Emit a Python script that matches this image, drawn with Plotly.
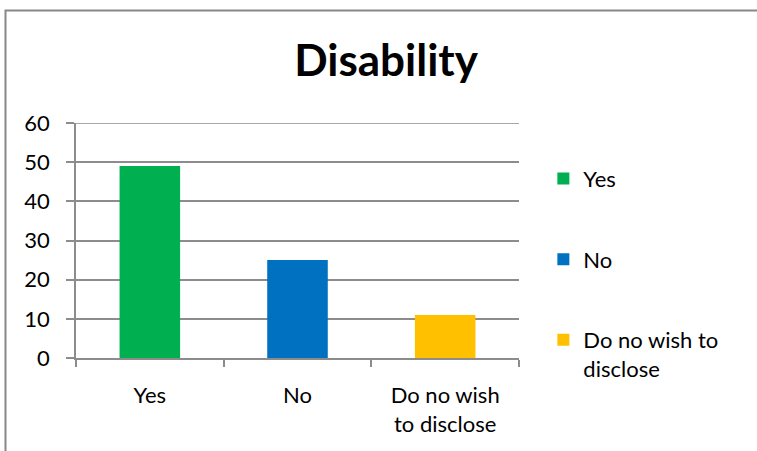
import plotly.graph_objects as go

categories = ["Yes", "No", "Do no wish<br>to disclose"]
legend_names = ["Yes", "No", "Do no wish to<br>disclose"]
values = [49, 25, 11]
colors = ["#00B050", "#0070C0", "#FFC000"]
y_max = 60

FONT = "Lato, Carlito, Calibri, sans-serif"
GRID = "#8C8C8C"

fig = go.Figure()
for i, (cat, name, val, col) in enumerate(zip(categories, legend_names, values, colors)):
    fig.add_trace(go.Bar(x=[cat], y=[val], name=name, marker_color=col,
                         legendgroup=f"g{i}", marker_line_width=0))

fig.update_layout(
    width=757, height=451,
    margin=dict(l=76, r=238, t=123, b=93),
    paper_bgcolor="white", plot_bgcolor="white",
    barmode="overlay", bargap=0.59,
    font=dict(family=FONT, size=22, color="#000000"),
    title=dict(text="<b>Disability</b>", x=0.51, xanchor="center",
               y=1 - 61 / 451, yanchor="middle",
               font=dict(family=FONT, size=44, color="#000000")),
    legend=dict(x=1.055, xanchor="left", y=0.852, yanchor="top",
                tracegroupgap=49, valign="top", itemwidth=30,
                font=dict(family=FONT, size=22, color="#000000"),
                bgcolor="rgba(0,0,0,0)"),
    showlegend=True,
)
fig.update_yaxes(range=[0, y_max], dtick=10, showgrid=True, gridcolor=GRID, gridwidth=1.5,
                 showline=True, linecolor=GRID, linewidth=1.5,
                 ticks="outside", ticklen=8, tickcolor=GRID, tickwidth=1.5,
                 ticklabelstandoff=12,
                 tickfont=dict(size=22), zeroline=False, fixedrange=True)
fig.update_xaxes(showline=True, linecolor=GRID, linewidth=1.5,
                 ticks="outside", tickson="boundaries", ticklen=7, tickcolor=GRID, tickwidth=1.5,
                 ticklabelstandoff=17,
                 tickfont=dict(size=22), showgrid=False, fixedrange=True)

# top gridline at the axis maximum
fig.add_shape(type="line", xref="paper", yref="y", x0=0, x1=1, y0=y_max, y1=y_max,
              line=dict(color=GRID, width=1.5))

# chart frame (outer border of the chart object)
fig.add_shape(type="rect", xref="paper", yref="paper",
              x0=(5.5 - 76) / 443, x1=2.0, y0=-1.0, y1=(358 - 10.5) / 235,
              line=dict(color="#888888", width=2), layer="below")

fig.write_html("out.html")
